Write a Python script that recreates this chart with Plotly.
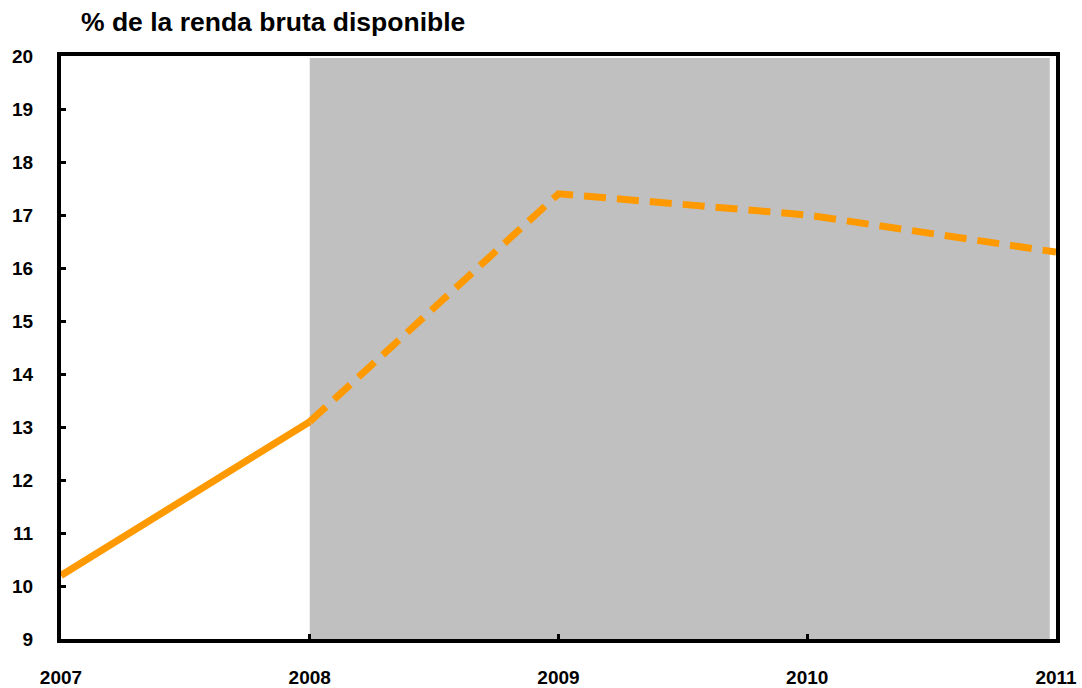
import plotly.graph_objects as go

years = [2007, 2008, 2009, 2010, 2011]
values = [10.2, 13.1, 17.4, 17.0, 16.3]
y_ticks = list(range(9, 21))
x_ticks = [2007, 2008, 2009, 2010, 2011]
shade_start = 2008
shade_end = 2010.975
shade_top = 19.96
title_text = "% de la renda bruta disponible"

orange = "#FF9900"

fig = go.Figure()
fig.add_trace(go.Scatter(x=years[:2], y=values[:2], mode="lines",
                         line=dict(color=orange, width=7), showlegend=False))
fig.add_trace(go.Scatter(x=years[1:], y=values[1:], mode="lines",
                         line=dict(color=orange, width=7, dash="22px,11px"), showlegend=False))

fig.add_shape(type="rect", xref="x", yref="y", x0=shade_start, x1=shade_end, y0=9, y1=shade_top,
              fillcolor="#C0C0C0", line=dict(width=0), layer="below")

font_bold = dict(family="Liberation Sans, Arial", size=19, color="black", weight="bold")

fig.update_layout(
    template="none",
    width=1082, height=688,
    margin=dict(l=61, r=26, t=56, b=49, autoexpand=False),
    paper_bgcolor="white", plot_bgcolor="white",
    showlegend=False,
    annotations=[dict(text="<b>" + title_text + "</b>", xref="paper", yref="paper",
                      x=0, y=1.0, xshift=18, yshift=34, xanchor="left", yanchor="middle",
                      showarrow=False,
                      font=dict(family="Liberation Sans, Arial", size=26.5, color="black"))],
)
fig.update_xaxes(range=[2007, 2011], tickvals=x_ticks, ticktext=[str(v) for v in x_ticks],
                 showgrid=False, zeroline=False, showline=True, linecolor="black", linewidth=4,
                 mirror=True, ticks="inside", ticklen=5, tickwidth=3, tickcolor="black",
                 tickfont=font_bold, ticklabelstandoff=18, automargin=False)
fig.update_yaxes(range=[9, 20], tickvals=y_ticks, showgrid=False, zeroline=False,
                 showline=True, linecolor="black", linewidth=4, mirror=True,
                 ticks="inside", ticklen=5, tickwidth=3, tickcolor="black",
                 tickfont=font_bold, ticklabelstandoff=20, automargin=False)

fig.write_html("out.html", config={"displayModeBar": False},
               post_script="document.body.style.margin='0';document.body.style.overflow='hidden';")
